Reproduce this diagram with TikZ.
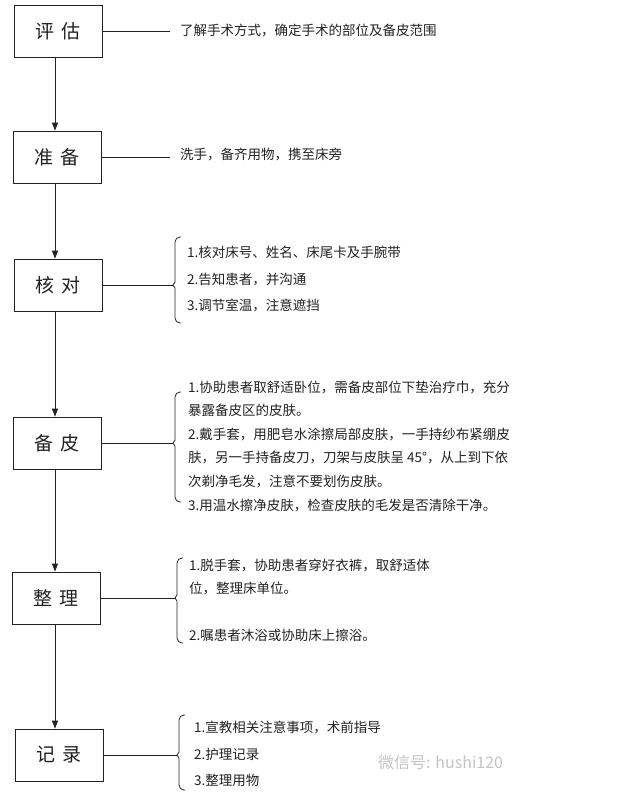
\documentclass[tikz,border=0pt]{standalone}
\usepackage{fontspec}
\setmainfont{Noto Sans CJK SC}
\usetikzlibrary{arrows.meta, calc}
\definecolor{ink}{HTML}{222222}
\definecolor{mark}{HTML}{C4C4C4}
\newcommand{\lblsep}{\hspace{0.42em}}
% curly bracket: tip, rise above tip, drop below tip
\newcommand{\bracket}[3]{%
  \draw[link] ($(#1)+(2,-3)$) -- (#1) -- ($(#1)+(2,3)$);
  \draw[link, rounded corners=5pt] ($(#1)+(2,-3)$) -- ++(0,3-#2) -- ++(6,0);
  \draw[link, rounded corners=5pt] ($(#1)+(2,3)$) -- ++(0,#3-3) -- ++(6,0);}
\tikzset{
  stage/.style={draw=ink, line width=0.8pt, text=ink, minimum width=88pt, minimum height=52pt,
    inner sep=0pt, font=\fontsize{19}{21}\selectfont},
  note/.style={anchor=west, inner sep=0pt, align=left, text=ink,
    font=\fontsize{13.5}{#1}\selectfont},
  note/.default={24},
  link/.style={draw=ink, line width=0.8pt},
  flow/.style={draw=ink, line width=0.8pt, -{Triangle[length=8pt, width=6pt]}},
}
\begin{document}
\begin{tikzpicture}[x=1pt, y=-1pt]
  \path[fill=white, use as bounding box] (0,0) rectangle (625,795);

  % steps
  \node[stage] (pg) at (58,31) {评\lblsep 估};
  \node[stage] (zb) at (57,157) {准\lblsep 备};
  \node[stage] (hd) at (58,285) {核\lblsep 对};
  \node[stage] (bp) at (57,443) {备\lblsep 皮};
  \node[stage] (zl) at (56,598) {整\lblsep 理};
  \node[stage] (jl) at (59,755) {记\lblsep 录};

  \foreach \a/\b in {pg/zb, zb/hd, hd/bp, bp/zl, zl/jl}
    \draw[flow] (\a.south -| 55,0) -- (\b.north -| 55,0);

  % notes
  \node[note] (pg-txt) at (180,31) {了解手术方式，确定手术的部位及备皮范围};
  \node[note] (zb-txt) at (180,154) {洗手，备齐用物，携至床旁};
  \node[note=26.5] (hd-txt) at (187,279) {1.核对床号、姓名、床尾卡及手腕带\\2.告知患者，并沟通\\3.调节室温，注意遮挡};
  \node[note=23.6] (bp-txt) at (188,446) {1.协助患者取舒适卧位，需备皮部位下垫治疗巾，充分\\暴露备皮区的皮肤。\\2.戴手套，用肥皂水涂擦局部皮肤，一手持纱布紧绷皮\\肤，另一手持备皮刀，刀架与皮肤呈 45°，从上到下依\\次剃净毛发，注意不要划伤皮肤。\\3.用温水擦净皮肤，检查皮肤的毛发是否清除干净。};
  \node[note=23.3] (zl-txt) at (189,600) {1.脱手套，协助患者穿好衣裤，取舒适体\\位，整理床单位。\\[23.3pt]2.嘱患者沐浴或协助床上擦浴。};
  \node[note=26.5] (jl-txt) at (194,754) {1.宣教相关注意事项，术前指导\\2.护理记录\\3.整理用物};

  \draw[link] (pg) -- (pg-txt) [shorten >=10pt];
  \draw[link, shorten >=10pt] (zb.east) -- (zb.east -| zb-txt.west);

  \coordinate (hd-tip) at (173,285);
  \coordinate (bp-tip) at (173,443);
  \coordinate (zl-tip) at (175,598);
  \coordinate (jl-tip) at (177,755);
  \foreach \s in {hd, bp, zl, jl}
    \draw[link] (\s) -- (\s-tip);
  \bracket{hd-tip}{48}{38}
  \bracket{bp-tip}{51}{59}
  \bracket{zl-tip}{40}{45}
  \bracket{jl-tip}{40}{35}

  \node[anchor=west, inner sep=0pt, text=mark, font=\fontsize{16}{18}\selectfont] (wm) at (378,762) {微信号: hushi120};
\end{tikzpicture}
\end{document}
